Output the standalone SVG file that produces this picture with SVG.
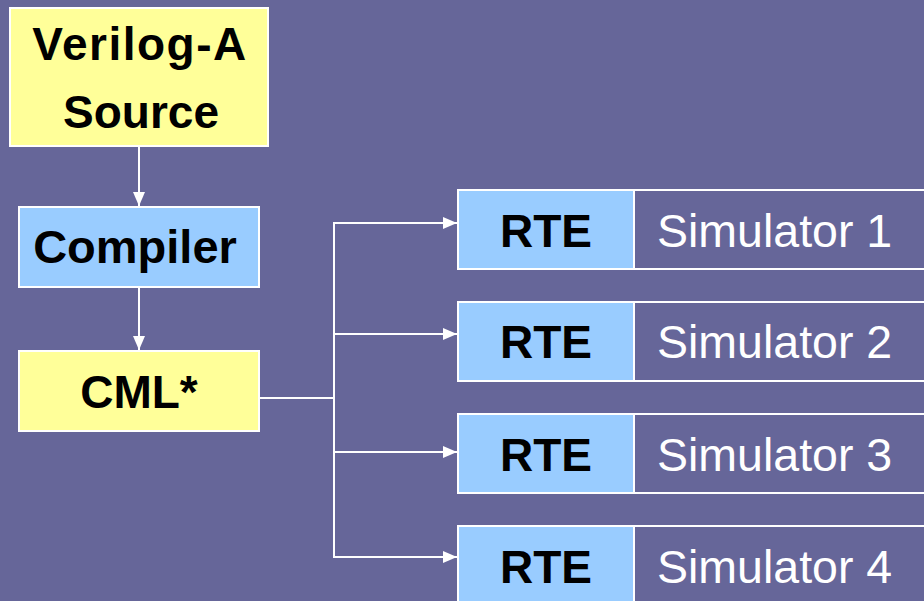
<svg xmlns="http://www.w3.org/2000/svg" width="924" height="601" viewBox="0 0 924 601">
<defs>
<style>
.bg{fill:#666699}
.y{fill:#FFFF99;stroke:#FFFFFF;stroke-width:2}
.b{fill:#99CCFF;stroke:#FFFFFF;stroke-width:2}
.o{fill:#666699;stroke:#FFFFFF;stroke-width:2}
.t{font-family:"Liberation Sans",Arial,sans-serif;font-weight:bold;fill:#000000;text-anchor:middle}
.s{font-family:"Liberation Sans",Arial,sans-serif;font-size:46.5px;fill:#FFFFFF}
.c{fill:none;stroke:#FFFFFF;stroke-width:2}
</style>
<marker id="ah" viewBox="0 0 14 12" refX="14" refY="6" markerWidth="14" markerHeight="12" markerUnits="userSpaceOnUse" orient="auto">
<path d="M0,0 L14,6 L0,12 Z" fill="#FFFFFF"/>
</marker>
</defs>
<rect class="bg" x="0" y="0" width="924" height="601"/>
<g id="verilog">
<rect class="y" x="10" y="8" width="258" height="138"/>
<text class="t" x="140" y="60" font-size="46" letter-spacing="1.5">Verilog-A</text>
<text class="t" x="141" y="128" font-size="46">Source</text>
</g>
<g id="compiler">
<rect class="b" x="19" y="207" width="240" height="80"/>
<text class="t" x="135" y="263" font-size="47">Compiler</text>
</g>
<g id="cml">
<rect class="y" x="19" y="351" width="240" height="80"/>
<text class="t" x="139" y="408" font-size="46">CML*</text>
</g>
<g id="sim1">
<rect class="o" x="458" y="190" width="500" height="79"/>
<rect class="b" x="458" y="190" width="176" height="79"/>
<text class="t" x="546" y="247" font-size="46">RTE</text>
<text class="s" x="657" y="247">Simulator 1</text>
</g>
<g id="sim2">
<rect class="o" x="458" y="302" width="500" height="79"/>
<rect class="b" x="458" y="302" width="176" height="79"/>
<text class="t" x="546" y="358" font-size="46">RTE</text>
<text class="s" x="657" y="358">Simulator 2</text>
</g>
<g id="sim3">
<rect class="o" x="458" y="414" width="500" height="79"/>
<rect class="b" x="458" y="414" width="176" height="79"/>
<text class="t" x="546" y="471" font-size="46">RTE</text>
<text class="s" x="657" y="471">Simulator 3</text>
</g>
<g id="sim4">
<rect class="o" x="458" y="526" width="500" height="100"/>
<rect class="b" x="458" y="526" width="176" height="100"/>
<text class="t" x="546" y="583" font-size="46">RTE</text>
<text class="s" x="657" y="583">Simulator 4</text>
</g>
<g id="connectors">
<line class="c" x1="139" y1="147" x2="139" y2="206" marker-end="url(#ah)"/>
<line class="c" x1="139" y1="288" x2="139" y2="350" marker-end="url(#ah)"/>
<polyline class="c" points="260,398 334,398"/>
<polyline class="c" points="334,223 334,557"/>
<line class="c" x1="333" y1="223" x2="457" y2="223" marker-end="url(#ah)"/>
<line class="c" x1="333" y1="334" x2="457" y2="334" marker-end="url(#ah)"/>
<line class="c" x1="333" y1="452" x2="457" y2="452" marker-end="url(#ah)"/>
<line class="c" x1="333" y1="557" x2="457" y2="557" marker-end="url(#ah)"/>
</g>
</svg>
